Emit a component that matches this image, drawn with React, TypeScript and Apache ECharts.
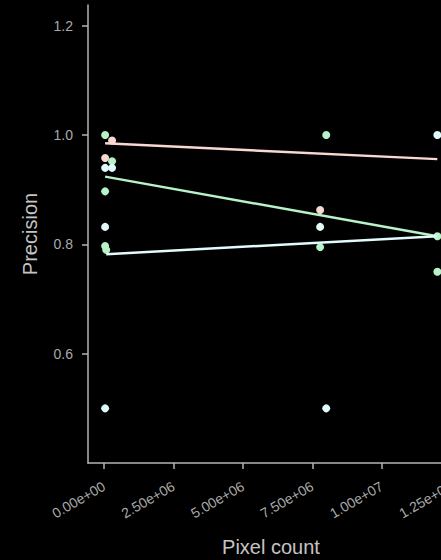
import React, { useEffect, useRef } from "react";
import * as echarts from "echarts";

// Scatter data: [pixel count, precision]
const pinkPoints: [number, number][] = [
  [0.04e6, 0.958],
  [0.29e6, 0.99],
  [7.78e6, 0.863],
];
const greenPoints: [number, number][] = [
  [0.04e6, 1.0],
  [0.29e6, 0.952],
  [0.04e6, 0.897],
  [0.04e6, 0.797],
  [0.08e6, 0.79],
  [7.78e6, 0.795],
  [8.0e6, 1.0],
  [12.0e6, 0.815],
  [12.0e6, 0.75],
];
const bluePoints: [number, number][] = [
  [0.04e6, 0.94],
  [0.29e6, 0.94],
  [0.04e6, 0.832],
  [0.04e6, 0.5],
  [7.78e6, 0.832],
  [8.0e6, 0.5],
  [12.0e6, 1.0],
];

// Fitted trend lines (endpoints)
const pinkTrend: [number, number][] = [
  [0.04e6, 0.985],
  [12.0e6, 0.956],
];
const greenTrend: [number, number][] = [
  [0.04e6, 0.924],
  [12.0e6, 0.815],
];
const blueTrend: [number, number][] = [
  [0.08e6, 0.782],
  [12.0e6, 0.815],
];

const yTicks = [0.6, 0.8, 1.0, 1.2];
const xTicks = [0, 2.5e6, 5e6, 7.5e6, 1e7, 1.25e7];
const xLabels = ["0.00e+00", "2.50e+06", "5.00e+06", "7.50e+06", "1.00e+07", "1.25e+07"];

const PINK = "#f8d8d2";
const GREEN = "#b8f2c8";
const BLUE = "#e2fafa";

export default function App() {
  const ref = useRef<HTMLDivElement>(null);
  useEffect(() => {
    document.body.style.margin = "0";
    const chart = echarts.init(ref.current!, null, { renderer: "svg" });
    const scatter = (data: [number, number][], color: string) => ({
      type: "scatter",
      data,
      symbolSize: 8,
      itemStyle: { color, opacity: 1 },
      z: 2,
    });
    const line = (data: [number, number][], color: string) => ({
      type: "line",
      data,
      symbol: "none",
      lineStyle: { color, width: 2.5 },
      z: 3,
    });
    chart.setOption({
      animation: false,
      backgroundColor: "#000000",
      textStyle: { fontFamily: "Liberation Sans" },
      grid: { left: 88, top: 5, bottom: 97, right: -13, outerBoundsMode: "none", containLabel: false },
      xAxis: {
        type: "value",
        min: -0.576e6,
        max: 12.6e6,
        name: "Pixel count",
        nameLocation: "middle",
        nameGap: 74,
        nameTextStyle: { color: "#c4c4c4", fontSize: 20 },
        axisLine: { onZero: false, lineStyle: { color: "#b4b4b4", width: 1.5 } },
        axisTick: { customValues: xTicks, length: 6, lineStyle: { color: "#b4b4b4", width: 1.5 } },
        axisLabel: {
          customValues: xTicks,
          rotate: 30,
          margin: 22,
          color: "#aaaaaa",
          fontSize: 14,
          formatter: (v: number) => {
            const i = xTicks.findIndex((t) => Math.abs(t - v) < 1);
            return i >= 0 ? xLabels[i] : "";
          },
        },
        splitLine: { show: false },
      },
      yAxis: {
        type: "value",
        min: 0.4,
        max: 1.238,
        name: "Precision",
        nameLocation: "middle",
        nameGap: 48,
        nameTextStyle: { color: "#c4c4c4", fontSize: 20 },
        axisLine: { onZero: false, lineStyle: { color: "#b4b4b4", width: 1.5 } },
        axisTick: { customValues: yTicks, length: 6, lineStyle: { color: "#b4b4b4", width: 1.5 } },
        axisLabel: {
          customValues: yTicks,
          margin: 15,
          color: "#aaaaaa",
          fontSize: 14,
          formatter: (v: number) => v.toFixed(1),
        },
        splitLine: { show: false },
      },
      series: [
        scatter(pinkPoints, PINK),
        scatter(greenPoints, GREEN),
        scatter(bluePoints, BLUE),
        line(pinkTrend, PINK),
        line(greenTrend, GREEN),
        line(blueTrend, BLUE),
      ],
    });
    return () => chart.dispose();
  }, []);
  return (
    <div
      ref={ref}
      style={{ position: "absolute", left: 0, top: 0, width: 441, height: 560, background: "#000" }}
    />
  );
}
